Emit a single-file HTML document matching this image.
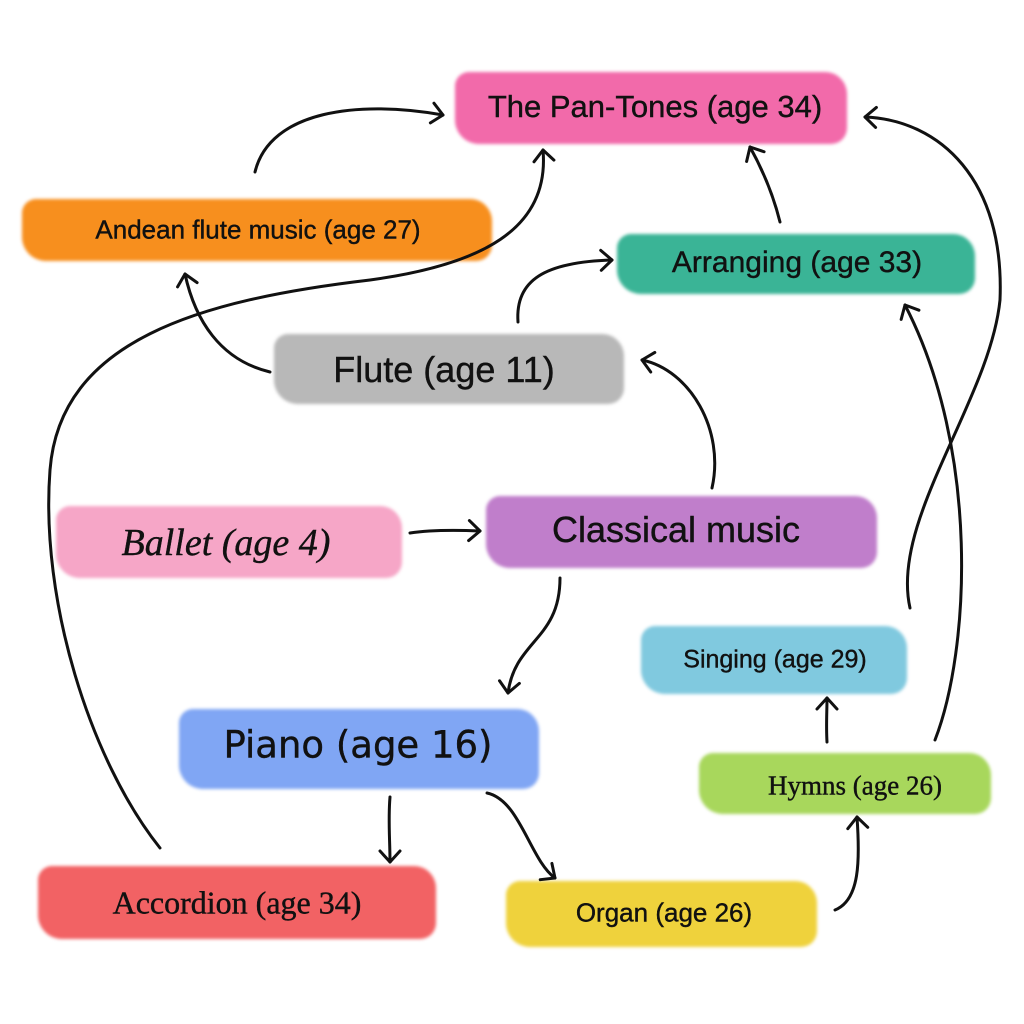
<!DOCTYPE html>
<html><head><meta charset="utf-8"><style>
html,body{margin:0;padding:0;background:#fff}
body{width:1024px;height:1024px;position:relative;overflow:hidden;font-family:"Liberation Sans","DejaVu Sans",sans-serif}
.b{position:absolute;border-radius:14px 22px 16px 24px;filter:blur(1.5px)}
.t{position:absolute;color:#111;white-space:nowrap;transform:translate(-50%,-50%);-webkit-text-stroke:0.4px #111}
svg{position:absolute;left:0;top:0}
</style></head><body>
<div class="b" style="left:455px;top:72px;width:392px;height:72px;background:#f26aaa"></div>
<div class="b" style="left:22px;top:199px;width:470px;height:62px;background:#f78f1e"></div>
<div class="b" style="left:617px;top:234px;width:358px;height:60px;background:#3ab496"></div>
<div class="b" style="left:274px;top:334px;width:350px;height:70px;background:#b8b8b8"></div>
<div class="b" style="left:56px;top:506px;width:346px;height:72px;background:#f6a6c7"></div>
<div class="b" style="left:486px;top:496px;width:391px;height:72px;background:#c07ecb"></div>
<div class="b" style="left:641px;top:626px;width:266px;height:68px;background:#80c9df"></div>
<div class="b" style="left:179px;top:709px;width:360px;height:80px;background:#80a6f4"></div>
<div class="b" style="left:699px;top:753px;width:292px;height:61px;background:#a8d75c"></div>
<div class="b" style="left:38px;top:866px;width:398px;height:73px;background:#f26264"></div>
<div class="b" style="left:506px;top:881px;width:311px;height:66px;background:#efd23c"></div>

<div class="t" style="left:655px;top:107px;font-size:31px">The Pan-Tones (age 34)</div>
<div class="t" style="left:258px;top:230px;font-size:26px">Andean flute music (age 27)</div>
<div class="t" style="left:797px;top:263px;font-size:30px">Arranging (age 33)</div>
<div class="t" style="left:444px;top:370px;font-size:36px">Flute (age 11)</div>
<div class="t" style="left:226px;top:543px;font-size:38px;font-style:italic;font-family:'Liberation Serif',serif">Ballet (age 4)</div>
<div class="t" style="left:676px;top:530px;font-size:36px">Classical music</div>
<div class="t" style="left:775px;top:660px;font-size:25px">Singing (age 29)</div>
<div class="t" style="left:358px;top:745px;font-size:37px;font-family:'DejaVu Sans',sans-serif">Piano (age 16)</div>
<div class="t" style="left:855px;top:786px;font-size:27px;font-family:'Liberation Serif',serif">Hymns (age 26)</div>
<div class="t" style="left:237px;top:903px;font-size:32px;font-family:'Liberation Serif',serif">Accordion (age 34)</div>
<div class="t" style="left:664px;top:913px;font-size:26px">Organ (age 26)</div>

<svg width="1024" height="1024" fill="none" stroke="#111" stroke-width="3" stroke-linecap="round" stroke-linejoin="round">
<defs><marker id="a" viewBox="0 0 10 10" refX="0" refY="0" markerWidth="10" markerHeight="10" orient="auto" markerUnits="userSpaceOnUse" style="overflow:visible"><path d="M-11,-10 L0,0 L-11,10" stroke="#111" stroke-width="3" fill="none"/></marker></defs>
<g marker-end="url(#a)">
<path d="M255,172 C270,110 360,100 443,115"/>
<path d="M270,372 C220,360 195,320 185,274"/>
<path d="M518,322 C515,280 545,262 612,260"/>
<path d="M780,222 C772,190 760,165 750,147"/>
<path d="M712,488 C725,430 690,370 642,360"/>
<path d="M410,533 C430,530 455,530 480,531"/>
<path d="M560,578 C560,640 515,640 508,693"/>
<path d="M160,848 C90,760 40,600 50,470 C60,340 200,300 370,280 C480,265 550,230 543,150"/>
<path d="M390,797 C388,820 390,840 390,862"/>
<path d="M487,793 C520,800 530,860 555,878"/>
<path d="M835,910 C860,900 860,860 857,817"/>
<path d="M827,742 C826,725 827,712 827,698"/>
<path d="M935,740 C970,650 980,450 905,305"/>
<path d="M910,608 C890,520 990,400 1000,300 C1005,180 940,120 865,117"/>
</g>
</svg>
</body></html>
